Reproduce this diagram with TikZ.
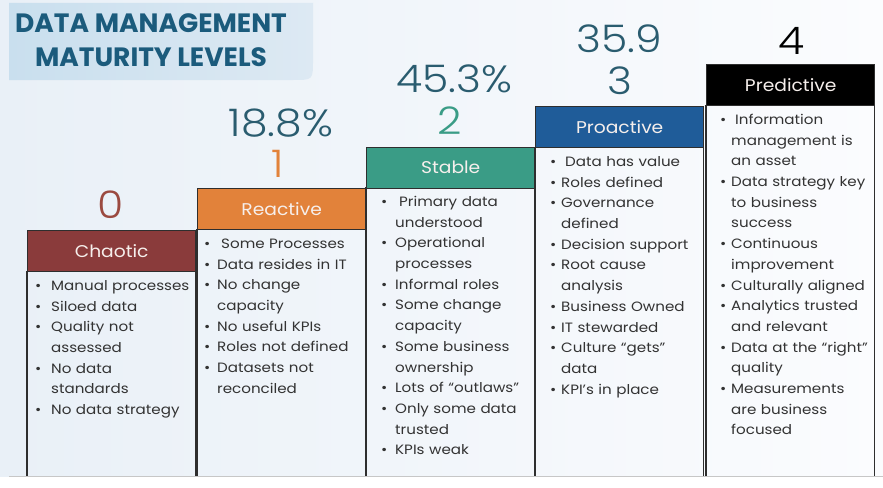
\documentclass[tikz,border=0pt]{standalone}
\usepackage{fontspec}
\setmainfont{Poppins}
\newfontfamily\bodyf{Poppins}[FakeStretch=1.12]
\newfontfamily\hdrf{Poppins}[FakeStretch=1.1]
\newfontfamily\numf{Poppins Light}[FakeStretch=1.12]
\definecolor{bgA}{HTML}{E9F0F7}
\definecolor{bgB}{HTML}{FBFCFE}
\definecolor{tboxA}{HTML}{C9DFEE}
\definecolor{tboxB}{HTML}{DDE9F3}
\definecolor{titleC}{HTML}{1B5B7C}
\definecolor{numC}{HTML}{2A5C6F}
\definecolor{cChaotic}{HTML}{8A3B3B}
\definecolor{cReactive}{HTML}{E2823A}
\definecolor{cStable}{HTML}{3A9C86}
\definecolor{cProactive}{HTML}{1F5C99}
\definecolor{cPredictive}{HTML}{000000}
\definecolor{nZero}{HTML}{9B4A40}
\definecolor{hdrText}{HTML}{F6EFEC}
\definecolor{bodyC}{HTML}{333333}
\definecolor{lineC}{HTML}{2E2E2E}
\newlength\bulw
\newcommand\li[1]{\par\hangindent=\bulw\hangafter=1\noindent\makebox[\bulw][l]{\rule{0pt}{10pt}\textbullet}#1}
\tikzset{
  hdr/.style={draw=lineC, line width=1.4pt, minimum width=168pt, minimum height=41pt, anchor=north west, inner sep=0pt, text=hdrText, font=\hdrf\fontsize{17}{20}\selectfont},
  bodyb/.style={minimum width=168pt, anchor=north west, inner sep=0pt, draw=none},
  bline/.style={draw=lineC, line width=1.6pt},
  lst/.style={anchor=north west, inner sep=0pt, text width=175pt, text=bodyC, font=\bodyf\fontsize{13.5}{20.7}\selectfont},
  bignum/.style={inner sep=0pt, font=\numf\fontsize{38}{40}\selectfont},
}
\begin{document}
\begin{tikzpicture}[x=1pt,y=-1pt]
\useasboundingbox (0,0) rectangle (883,487);
\fill[white] (0,0) rectangle (883,487);
\shade[left color=bgA, right color=bgB] (0,0) rectangle (883,476);
% title box
\shade[left color=tboxA, right color=tboxB] (9,3) -- (313,3) -- (313,60) .. controls (313,80) .. (293,80) -- (9,80) -- cycle;
\node[align=center, text=titleC, font=\bfseries\fontsize{26.5}{34}\selectfont, inner sep=0pt] (title) at (151,40) {DATA MANAGEMENT\\MATURITY LEVELS};
% numbers
\node[bignum, text=nZero] (n0) at (111,205) {0};
\node[bignum, text=numC] (p1) at (281,123) {18.8\%};
\node[bignum, text=cReactive] (n1) at (278,164) {1};
\node[bignum, text=numC] (p2) at (454,79) {45.3\%};
\node[bignum, text=cStable] (n2) at (450,121) {2};
\node[bignum, text=numC] (p3) at (619,39) {35.9};
\node[bignum, text=numC] (n3) at (620,81) {3};
\node[bignum, text=black] (n4) at (792,41) {4};
% bodies
\node[bodyb, minimum height=205pt] (b0) at (27,271) {};
\node[bodyb, minimum height=247pt] (b1) at (197,229) {};
\node[bodyb, minimum height=289pt] (b2) at (366,187) {};
\node[bodyb, minimum height=329pt] (b3) at (535,147) {};
\node[bodyb, minimum height=371pt] (b4) at (706,105) {};
\foreach \b in {b0,b1,b2,b3,b4}{
  \draw[bline] (\b.north west) -- (\b.south west) (\b.north east) -- (\b.south east);
}
\draw[draw=black!22, line width=0.8pt] (9,476.5) -- (883,476.5);
% headers
\node[hdr, fill=cChaotic] (h0) at (27,230) {Chaotic};
\node[hdr, fill=cReactive] (h1) at (197,188) {Reactive};
\node[hdr, fill=cStable] (h2) at (366,146.5) {Stable};
\node[hdr, fill=cProactive] (h3) at (535,106) {Proactive};
\node[hdr, fill=cPredictive] (h4) at (706,64) {Predictive};
% lists
\node[lst] (t0) at ([shift={(8,-1.5)}]b0.north west) {\setlength\bulw{16pt}%
\li{Manual processes}\li{Siloed data}\li{Quality not\newline assessed}\li{No data\newline standards}\li{No data strategy}\par};
\node[lst] (t1) at ([shift={(7,-1.5)}]b1.north west) {\setlength\bulw{13pt}%
\li{\hspace{4pt}Some Processes}\li{Data resides in IT}\li{No change\newline capacity}\li{No useful KPIs}\li{Roles not defined}\li{Datasets not\newline reconciled}\par};
\node[lst] (t2) at ([shift={(15,-1.5)}]b2.north west) {\setlength\bulw{14pt}%
\li{\hspace{4pt}Primary data\newline understood}\li{Operational\newline processes}\li{Informal roles}\li{Some change\newline capacity}\li{Some business\newline ownership}\li{Lots of “outlaws”}\li{Only some data\newline trusted}\li{KPIs weak}\par};
\node[lst] (t3) at ([shift={(15,-1.5)}]b3.north west) {\setlength\bulw{11pt}%
\li{\hspace{4pt}Data has value}\li{Roles defined}\li{Governance\newline defined}\li{Decision support}\li{Root cause\newline analysis}\li{Business Owned}\li{IT stewarded}\li{Culture “gets”\newline data}\li{KPI’s in place}\par};
\node[lst] (t4) at ([shift={(14,-1.5)}]b4.north west) {\setlength\bulw{11pt}%
\li{\hspace{4pt}Information\newline management is\newline an asset}\li{Data strategy key\newline to business\newline success}\li{Continuous\newline improvement}\li{Culturally aligned}\li{Analytics trusted\newline and relevant}\li{Data at the “right”\newline quality}\li{Measurements\newline are business\newline focused}\par};
\end{tikzpicture}
\end{document}
